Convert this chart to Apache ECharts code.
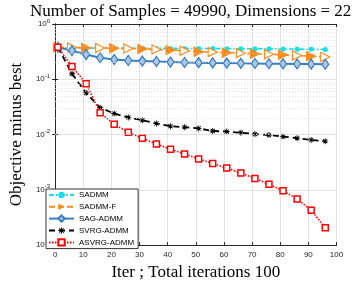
<!DOCTYPE html>
<html><head><meta charset="utf-8">
<script src="https://cdn.jsdelivr.net/npm/echarts@6/dist/echarts.min.js"></script>
<style>html,body{margin:0;padding:0;background:#fff}#c{width:359px;height:286px}</style>
</head><body><div id="c"></div>
<script>
var iters = [1,6,11,16,21,26,31,36,41,46,51,56,61,66,71,76,81,86,91,96];
var sadmm = [0.375,0.368,0.366,0.365,0.364,0.364,0.363,0.362,0.362,0.361,0.360,0.359,0.358,0.357,0.356,0.355,0.353,0.351,0.349,0.347];
var sadmmF = [0.380,0.375,0.370,0.368,0.365,0.360,0.355,0.345,0.338,0.328,0.316,0.310,0.302,0.297,0.290,0.284,0.277,0.269,0.262,0.252];
var sagAdmm = [0.380,0.330,0.280,0.245,0.228,0.219,0.213,0.210,0.205,0.201,0.200,0.198,0.196,0.194,0.193,0.191,0.190,0.189,0.188,0.187];
var svrgAdmm = [0.380,0.126,0.0567,0.0305,0.0240,0.0204,0.0182,0.0159,0.0142,0.0136,0.0129,0.0116,0.0113,0.0108,0.0102,0.0098,0.0092,0.0086,0.0080,0.0076];
var asvrgAdmm = [0.380,0.171,0.0833,0.0248,0.0153,0.01096,0.00855,0.00675,0.00542,0.00446,0.00362,0.00300,0.00247,0.00201,0.00161,0.00126,0.000963,0.000684,0.000428,0.000206];
var seriesNames = ['SADMM','SADMM-F','SAG-ADMM','SVRG-ADMM','ASVRG-ADMM'];
var xTicks = [0,10,20,30,40,50,60,70,80,90,100];
var titleText = 'Number of Samples = 49990, Dimensions = 22';
var xName = 'Iter ; Total iterations 100';
var yName = 'Objective minus best';

function pairs(arr){ return iters.map(function(x,i){ return [x, arr[i]]; }); }
var minorLines = [];
for (var k=-4;k<0;k++){ for (var m=2;m<10;m++){ minorLines.push({yAxis: m*Math.pow(10,k)}); } }

var cyan = '#12e0f0', orange = '#ff8c1a', blue = '#3a7dc0', red = '#ff0000';
var orangeData = iters.map(function(x,i){
  return {value:[x, sadmmF[i]], itemStyle:{color: i%2 ? '#ffffff' : orange, borderColor: orange, borderWidth: 1.2}};
});
var star = 'path://M4.3,0L5.7,0L5.7,10L4.3,10Z M0,4.3L10,4.3L10,5.7L0,5.7Z M1,2L2,1L9,8L8,9Z M8,1L9,2L2,9L1,8Z';
var serif = 'Liberation Serif';
var sans = 'Liberation Sans';
var chart = echarts.init(document.getElementById('c'), null, {renderer:'canvas'});
chart.setOption({
  animation:false,
  backgroundColor:'#fff',
  title:{text:titleText,left:30,top:3,padding:0,textStyle:{fontFamily:serif,fontSize:17,fontWeight:'normal',color:'#000'}},
  grid:{left:45,right:22.5,top:24,bottom:39,containLabel:false},
  legend:{
    data:seriesNames, orient:'vertical', left:46, top:189,
    backgroundColor:'#fff', borderColor:'#333', borderWidth:1, borderRadius:0,
    padding:[2,4,2,2], itemWidth:25, itemHeight:8, itemGap:3.7,
    textStyle:{fontFamily:sans,fontSize:8,color:'#000'}
  },
  xAxis:[{
    type:'value', min:0, max:100, interval:10,
    name:xName, nameLocation:'middle', nameGap:17,
    nameTextStyle:{fontFamily:serif,fontSize:17,color:'#000'},
    axisLine:{lineStyle:{color:'#262626',width:1}},
    axisTick:{inside:true,length:3,lineStyle:{color:'#262626'}},
    axisLabel:{margin:6,fontFamily:sans,fontSize:8,color:'#262626',
      formatter:function(v){ return xTicks.indexOf(v)>=0 ? String(v) : ''; }},
    splitLine:{show:true,lineStyle:{color:'#e3e3e3',width:1}}
  },{
    type:'value', min:0, max:100, interval:10, position:'top',
    axisLine:{show:true,lineStyle:{color:'#262626',width:1}},
    axisTick:{inside:true,length:3,lineStyle:{color:'#262626'}},
    axisLabel:{show:false}, splitLine:{show:false}
  }],
  yAxis:[{
    type:'log', logBase:10, min:1e-4, max:1,
    name:yName, nameLocation:'middle', nameGap:22,
    nameTextStyle:{fontFamily:serif,fontSize:17,color:'#000'},
    axisLine:{show:true,lineStyle:{color:'#262626',width:1}},
    axisTick:{inside:true,length:3,lineStyle:{color:'#262626'}},
    axisLabel:{margin:5,color:'#262626',
      formatter:function(v){ var e=Math.round(Math.log10(v)); return '{b|10}{s|'+e+'}'; },
      rich:{b:{fontFamily:sans,fontSize:8,color:'#262626'},
            s:{fontFamily:sans,fontSize:6,color:'#262626',verticalAlign:'bottom',padding:[0,0,6,0]}}},
    splitLine:{show:true,lineStyle:{color:'#e3e3e3',width:1}}
  },{
    type:'log', logBase:10, min:1e-4, max:1, position:'right',
    axisLine:{show:true,lineStyle:{color:'#262626',width:1}},
    axisTick:{inside:true,length:3,lineStyle:{color:'#262626'}},
    axisLabel:{show:false}, splitLine:{show:false}
  }],
  series:[
    {name:seriesNames[0], type:'line', data:pairs(sadmm), symbol:'circle', symbolSize:5,
     color:cyan, lineStyle:{color:cyan,width:1.6,type:[5,2,1.5,2]}, itemStyle:{color:cyan},
     markLine:{silent:true,symbol:'none',label:{show:false},animation:false,
       lineStyle:{color:'#d9d9d9',type:[1,2],width:0.8},data:minorLines}},
    {name:seriesNames[1], type:'line', data:orangeData, symbol:'triangle', symbolSize:[9,9], symbolRotate:-90,
     color:orange, lineStyle:{color:orange,width:1.6,type:[6,3]}, itemStyle:{color:orange}},
    {name:seriesNames[2], type:'line', data:pairs(sagAdmm), symbol:'diamond', symbolSize:[7,10],
     color:blue, lineStyle:{color:blue,width:2}, itemStyle:{color:'#a9c8e6',borderColor:blue,borderWidth:1.3}},
    {name:seriesNames[3], type:'line', data:pairs(svrgAdmm), symbol:star, symbolSize:6,
     color:'#000', lineStyle:{color:'#000',width:1.8,type:[6,4]}, itemStyle:{color:'#000'}},
    {name:seriesNames[4], type:'line', data:pairs(asvrgAdmm), symbol:'rect', symbolSize:6,
     color:red, lineStyle:{color:red,width:1.6,type:[1.5,1.5]}, itemStyle:{color:'#ffffff',borderColor:red,borderWidth:1.5}}
  ]
});
</script></body></html>
